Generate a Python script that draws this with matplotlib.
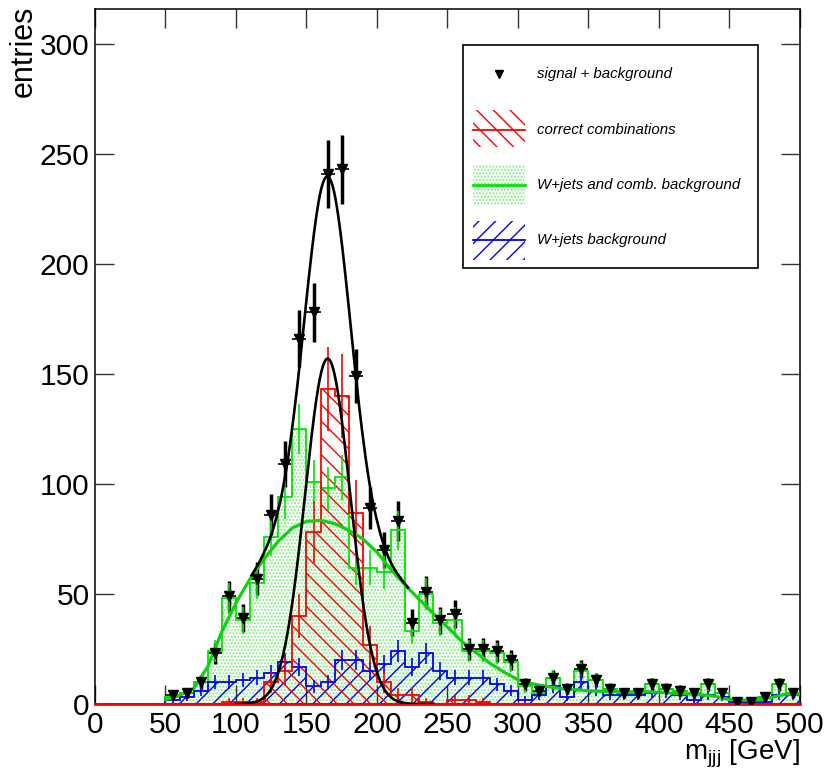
import numpy as np
import matplotlib
matplotlib.use("Agg")
import matplotlib.pyplot as plt
from matplotlib.patches import Rectangle

plt.rcParams['font.family'] = ['Liberation Sans', 'DejaVu Sans']
plt.rcParams['mathtext.fontset'] = 'custom'
plt.rcParams['mathtext.rm'] = 'Liberation Sans'
plt.rcParams['mathtext.it'] = 'Liberation Sans:italic'
plt.rcParams['hatch.linewidth'] = 1.0

# ---------------- data (bins of 10 GeV from 50 to 500) ----------------
bin_edges = list(range(50, 501, 10))
data_sb = [4, 5, 10, 23, 49, 39, 57, 86, 109, 166, 178, 241, 243, 149, 89, 70, 83, 37, 51, 38,
           41, 25, 25, 24, 20, 9, 6, 12, 7, 16, 11, 7, 5, 5, 9, 7, 6, 5, 9, 5,
           1, 1, 3, 9, 5]
correct_comb = [0, 0, 0, 0, 1, 1, 1, 10, 15, 40, 78, 143, 140, 87, 27, 10, 4, 4, 1, 0,
                2, 2, 1, 0, 0, 0, 0, 0, 0, 0, 0, 0, 0, 0, 0, 0, 0, 0, 0, 0,
                0, 0, 0, 0, 0]
wjets_comb = [3, 5, 10, 24, 48, 38, 55, 76, 94, 125, 101, 98, 103, 62, 62, 60, 79, 33, 50, 37,
              38, 24, 24, 23, 19, 8, 5, 12, 7, 15, 11, 7, 5, 5, 9, 7, 6, 5, 9, 5,
              1, 1, 3, 9, 5]
wjets = [2, 3, 6, 10, 10, 11, 12, 14, 19, 17, 8, 10, 20, 20, 15, 18, 24, 17, 23, 15,
         12, 12, 12, 9, 6, 2, 4, 8, 3, 10, 6, 4, 4, 4, 5, 5, 4, 2, 4, 3,
         1, 1, 1, 4, 4]

# background fit curve (green), sampled every 10 GeV from 50 to 500
bkg_curve_x = list(range(50, 501, 10))
bkg_curve_y = [2, 4, 7, 17, 33, 46, 57, 66, 74, 80, 83, 83.5, 82, 79, 75, 69, 61, 54, 47.5, 41,
               35, 28.5, 23.5, 18.5, 14.5, 11, 9.2, 8, 7, 6.5, 6, 5.7, 5.6, 5.6, 5.6, 5.3, 5, 4.6, 4.2, 3.5,
               2, 1.8, 1.8, 3, 4.5, 4.5]

# signal gaussian fit parameters
sig_amp, sig_mean, sig_sigma = 157.0, 165.0, 16.0

x_ticks = [0, 50, 100, 150, 200, 250, 300, 350, 400, 450, 500]
y_ticks = [0, 50, 100, 150, 200, 250, 300]

legend_labels = ["signal + background", "correct combinations",
                 "W+jets and comb. background", "W+jets background"]

# ---------------- figure ----------------
W, H = 829, 776
fig = plt.figure(figsize=(W / 100, H / 100), dpi=100)
ax = fig.add_axes([95 / W, 1 - 704 / H, 705 / W, (704 - 9.3) / H])

edges = np.array(bin_edges, dtype=float)
centers = 0.5 * (edges[:-1] + edges[1:])
d = np.array(data_sb, float)
r = np.array(correct_comb, float)
g = np.array(wjets_comb, float)
b = np.array(wjets, float)

GREEN_L = '#00e600'
GREEN_DOT = '#7ded7d'

# fills
ax.stairs(g, edges, fill=True, hatch='.....', facecolor='none', edgecolor=GREEN_DOT,
          linewidth=0, zorder=1)
ax.stairs(b, edges, fill=True, hatch='//', facecolor='none', edgecolor='#0000ff',
          linewidth=0, zorder=2)
ax.stairs(r, edges, fill=True, hatch='\\\\', facecolor='none', edgecolor='#ff0000',
          linewidth=0, zorder=3)

# data points (drawn beneath the histogram outlines)
ax.errorbar(centers, d, yerr=np.sqrt(d), fmt='none', ecolor='black', elinewidth=2.5,
            capsize=0, zorder=4)
ax.errorbar(centers, d, xerr=5, fmt='none', ecolor='black', elinewidth=1.2,
            capsize=0, zorder=4)

# outlines
ax.stairs(g, edges, color=GREEN_L, linewidth=1.3, zorder=5)
ax.stairs(b, edges, color='#0000ff', linewidth=1.3, zorder=5)
ax.stairs(r, edges, color='#ff0000', linewidth=1.3, zorder=5)


def vbars(vals, color, scale=1.0):
    m = vals > 0
    e = np.sqrt(vals[m]) * scale
    ax.vlines(centers[m], vals[m] - e, vals[m] + e, color=color, linewidth=1.2, zorder=5)


vbars(g, GREEN_L)
vbars(b, '#0000ff')
vbars(r, '#ff0000', 1.6)

ax.plot(centers, d, linestyle='none', marker='v', markersize=7, color='black', zorder=8)

# red baseline of correct combinations histogram
ax.plot([0, 500], [0, 0], color='#ff0000', linewidth=2, zorder=6, clip_on=False)

# curves
xs = np.linspace(50, 500, 901)
bk = np.interp(xs, bkg_curve_x, bkg_curve_y)
ax.plot(xs, bk, color='#10d010', linewidth=2.3, zorder=7)

xi = np.linspace(100, 240, 281)
gi = sig_amp * np.exp(-0.5 * ((xi - sig_mean) / sig_sigma) ** 2)
ax.plot(xi, gi, color='black', linewidth=1.9, zorder=7)

xo = np.linspace(111, 222, 223)
go = np.interp(xo, bkg_curve_x, bkg_curve_y) + sig_amp * np.exp(-0.5 * ((xo - sig_mean) / sig_sigma) ** 2)
ax.plot(xo, go, color='black', linewidth=1.9, zorder=7)

# axes
ax.set_xlim(0, 500)
ax.set_ylim(0, (704 - 9.3) / 2.2)
ax.set_xticks(x_ticks)
ax.set_yticks(y_ticks)
ax.tick_params(direction='in', length=14, width=1, top=True, right=True,
               labelsize=21.5, color='#333333')
ax.tick_params(axis='x', pad=5)
ax.tick_params(axis='y', pad=4)
for s in ax.spines.values():
    s.set_linewidth(1.1)

fig.text(24 / W, 1 - 6 / H, 'entries', rotation=90, ha='center', va='top', fontsize=22)
fig.text(800 / W, 1 - 759 / H, r'm$_{\mathrm{jjj}}$ [GeV]', ha='right', va='baseline', fontsize=20)

# legend drawn in pixel coordinates
lg = fig.add_axes([0, 0, 1, 1])
lg.set_xlim(0, W)
lg.set_ylim(H, 0)
lg.set_axis_off()
lg.add_patch(Rectangle((463, 45), 295, 223, facecolor='white', edgecolor='black', linewidth=1.2))
ys = [74, 130, 185, 240]
lg.plot([499], [ys[0]], marker='v', color='black', markersize=6)
lg.add_patch(Rectangle((473, 110), 52, 37, fill=False, hatch='\\\\', edgecolor='#ff0000', linewidth=0))
lg.plot([473, 525], [ys[1], ys[1]], color='#ff0000', linewidth=1.3)
lg.add_patch(Rectangle((473, 165), 52, 40, fill=False, hatch='.....', edgecolor=GREEN_DOT, linewidth=0))
lg.plot([473, 525], [ys[2], ys[2]], color=GREEN_L, linewidth=2)
lg.add_patch(Rectangle((473, 221), 52, 39, fill=False, hatch='//', edgecolor='#0000ff', linewidth=0))
lg.plot([473, 525], [ys[3], ys[3]], color='#0000ff', linewidth=1.3)
for yy, lab in zip(ys, legend_labels):
    lg.text(537, yy, lab, fontsize=10.8, style='italic', ha='left', va='center')

fig.savefig('out.png', dpi=100)
